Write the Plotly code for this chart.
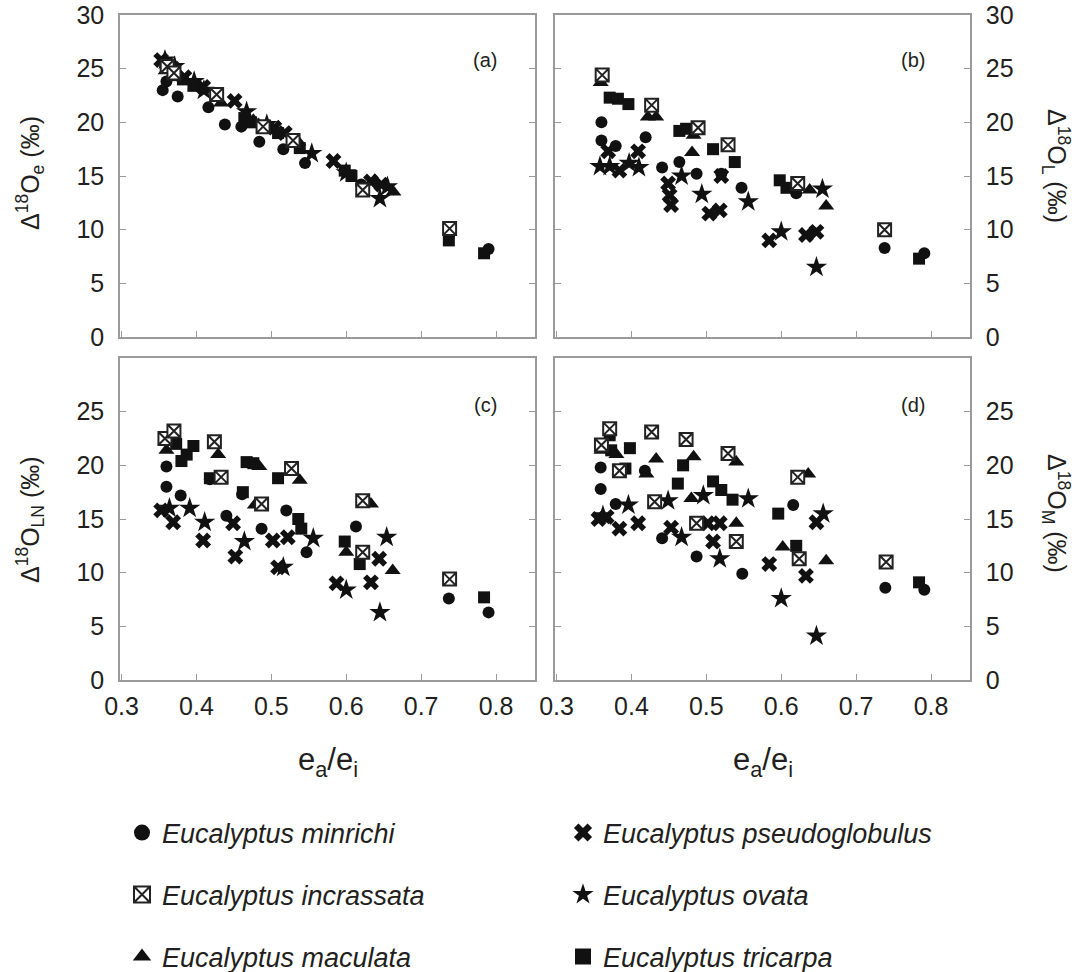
import plotly.graph_objects as go

# ---------------- data ----------------
species = ["Eucalyptus minrichi", "Eucalyptus incrassata", "Eucalyptus maculata",
           "Eucalyptus pseudoglobulus", "Eucalyptus ovata", "Eucalyptus tricarpa"]

# panel (a)  Δ18Oe
minrichi_a_x = [0.355, 0.36, 0.375, 0.416, 0.438, 0.46, 0.484, 0.516, 0.545, 0.62, 0.737, 0.79]
minrichi_a_y = [23.0, 23.8, 22.4, 21.4, 19.8, 19.6, 18.2, 17.5, 16.2, 14.2, 9.4, 8.2]
incrassata_a_x = [0.361, 0.37, 0.427, 0.489, 0.529, 0.622, 0.738]
incrassata_a_y = [25.2, 24.6, 22.6, 19.6, 18.3, 13.7, 10.1]
maculata_a_x = [0.359, 0.38, 0.433, 0.476, 0.483, 0.536, 0.638, 0.663]
maculata_a_y = [24.8, 24.2, 21.8, 20.2, 19.8, 18.2, 14.6, 13.5]
pseudo_a_x = [0.353, 0.369, 0.384, 0.409, 0.451, 0.504, 0.518, 0.583, 0.633, 0.647]
pseudo_a_y = [25.8, 25.0, 24.2, 23.3, 22.0, 19.5, 19.0, 16.4, 14.5, 14.2]
ovata_a_x = [0.358, 0.371, 0.397, 0.41, 0.467, 0.494, 0.554, 0.60, 0.645, 0.655]
ovata_a_y = [25.8, 25.2, 23.8, 23.0, 21.0, 19.8, 17.1, 15.3, 12.9, 14.0]
tricarpa_a_x = [0.371, 0.382, 0.396, 0.464, 0.473, 0.509, 0.538, 0.598, 0.607, 0.737, 0.784]
tricarpa_a_y = [24.4, 24.0, 23.4, 20.4, 20.0, 19.0, 17.6, 15.5, 15.0, 9.0, 7.8]

# panel (b)  Δ18OL
minrichi_b_x = [0.36, 0.36, 0.379, 0.419, 0.441, 0.464, 0.487, 0.52, 0.547, 0.62, 0.738, 0.791]
minrichi_b_y = [20.0, 18.3, 17.8, 18.6, 15.8, 16.3, 15.2, 15.2, 13.9, 13.4, 8.3, 7.8]
incrassata_b_x = [0.361, 0.427, 0.489, 0.529, 0.622, 0.738]
incrassata_b_y = [24.4, 21.6, 19.5, 17.9, 14.3, 10.0]
maculata_b_x = [0.359, 0.422, 0.433, 0.483, 0.481, 0.638, 0.66]
maculata_b_y = [23.7, 20.5, 20.5, 18.8, 17.2, 13.7, 12.2]
pseudo_b_x = [0.369, 0.384, 0.409, 0.449, 0.451, 0.453, 0.504, 0.518, 0.52, 0.584, 0.633, 0.647]
pseudo_b_y = [17.3, 15.5, 17.3, 14.3, 13.2, 12.3, 11.5, 11.8, 15.0, 9.0, 9.5, 9.8]
ovata_b_x = [0.358, 0.371, 0.397, 0.41, 0.467, 0.494, 0.556, 0.60, 0.655, 0.647]
ovata_b_y = [15.9, 15.9, 16.2, 15.8, 15.0, 13.3, 12.6, 9.8, 13.8, 6.5]
tricarpa_b_x = [0.371, 0.382, 0.396, 0.464, 0.473, 0.509, 0.538, 0.598, 0.607, 0.784]
tricarpa_b_y = [22.3, 22.2, 21.7, 19.2, 19.4, 17.5, 16.3, 14.6, 13.9, 7.3]

# panel (c)  Δ18OLN
minrichi_c_x = [0.36, 0.36, 0.379, 0.418, 0.44, 0.461, 0.487, 0.52, 0.547, 0.613, 0.737, 0.79]
minrichi_c_y = [19.9, 18.0, 17.2, 18.7, 15.3, 17.3, 14.1, 15.8, 11.9, 14.3, 7.6, 6.3]
incrassata_c_x = [0.358, 0.37, 0.424, 0.433, 0.527, 0.487, 0.622, 0.622, 0.738]
incrassata_c_y = [22.5, 23.2, 22.2, 18.9, 19.7, 16.4, 16.7, 11.9, 9.4]
maculata_c_x = [0.36, 0.429, 0.484, 0.538, 0.478, 0.633, 0.60, 0.662]
maculata_c_y = [21.4, 21.0, 19.9, 18.6, 16.3, 16.4, 11.9, 10.2]
pseudo_c_x = [0.353, 0.369, 0.409, 0.449, 0.452, 0.502, 0.522, 0.509, 0.587, 0.644, 0.633]
pseudo_c_y = [15.8, 14.7, 13.0, 14.6, 11.5, 13.0, 13.3, 10.5, 9.0, 11.3, 9.1]
ovata_c_x = [0.364, 0.391, 0.411, 0.464, 0.516, 0.556, 0.60, 0.654, 0.645]
ovata_c_y = [16.0, 16.0, 14.7, 12.9, 10.5, 13.2, 8.4, 13.3, 6.3]
tricarpa_c_x = [0.373, 0.396, 0.387, 0.38, 0.467, 0.476, 0.418, 0.509, 0.462, 0.536, 0.54, 0.598, 0.618, 0.784]
tricarpa_c_y = [22.0, 21.8, 21.0, 20.4, 20.3, 20.2, 18.8, 18.8, 17.5, 15.0, 14.1, 12.9, 10.8, 7.7]

# panel (d)  Δ18OM
minrichi_d_x = [0.359, 0.359, 0.379, 0.418, 0.441, 0.487, 0.548, 0.616, 0.739, 0.791]
minrichi_d_y = [19.8, 17.8, 16.4, 19.5, 13.2, 11.5, 9.9, 16.3, 8.6, 8.4]
incrassata_d_x = [0.36, 0.371, 0.384, 0.427, 0.431, 0.473, 0.487, 0.529, 0.54, 0.622, 0.624, 0.74]
incrassata_d_y = [21.9, 23.4, 19.5, 23.1, 16.6, 22.4, 14.6, 21.1, 12.9, 18.9, 11.3, 11.0]
maculata_d_x = [0.36, 0.38, 0.42, 0.433, 0.483, 0.48, 0.54, 0.54, 0.602, 0.636, 0.66]
maculata_d_y = [21.4, 21.0, 19.2, 20.6, 20.8, 16.9, 20.3, 14.6, 12.4, 19.2, 11.1]
pseudo_d_x = [0.356, 0.367, 0.384, 0.409, 0.453, 0.502, 0.518, 0.509, 0.584, 0.633, 0.647]
pseudo_d_y = [15.0, 15.2, 14.1, 14.6, 14.2, 14.6, 14.6, 12.9, 10.8, 9.7, 14.7]
ovata_d_x = [0.362, 0.396, 0.449, 0.467, 0.496, 0.556, 0.518, 0.60, 0.647, 0.656]
ovata_d_y = [15.3, 16.3, 16.7, 13.3, 17.2, 16.9, 11.3, 7.6, 4.1, 15.5]
tricarpa_d_x = [0.371, 0.373, 0.398, 0.392, 0.469, 0.462, 0.509, 0.52, 0.535, 0.596, 0.62, 0.784]
tricarpa_d_y = [22.8, 21.4, 21.6, 19.7, 20.0, 18.3, 18.5, 17.7, 16.8, 15.5, 12.5, 9.1]

x_ticks = [0.3, 0.4, 0.5, 0.6, 0.7, 0.8]
x_tick_text = ["0.3", "0.4", "0.5", "0.6", "0.7", "0.8"]
y_ticks_top = [0, 5, 10, 15, 20, 25, 30]
y_ticks_bottom = [0, 5, 10, 15, 20, 25]

# ---------------- styling ----------------
W, H = 1078, 972
FONT = "Liberation Sans, Arial, sans-serif"
TXT = "#231f20"
AX = "#9a9a9a"

def px_x(p):
    return p / W

def px_y(p):
    return 1 - p / H

styles = {
    "Eucalyptus minrichi": dict(symbol="circle", size=12, color="#111", line=dict(width=0)),
    "Eucalyptus incrassata": dict(symbol="square-x", size=13, color="white", line=dict(width=2, color="#222")),
    "Eucalyptus maculata": dict(symbol="triangle-up", size=14, color="#111", line=dict(width=0)),
    "Eucalyptus pseudoglobulus": dict(symbol="x", size=14, color="#111", line=dict(width=0)),
    "Eucalyptus ovata": dict(symbol="star", size=16, color="#111", line=dict(width=0)),
    "Eucalyptus tricarpa": dict(symbol="square", size=12, color="#111", line=dict(width=0)),
}

panels = {
    "a": ("x", "y", {
        "Eucalyptus minrichi": (minrichi_a_x, minrichi_a_y),
        "Eucalyptus incrassata": (incrassata_a_x, incrassata_a_y),
        "Eucalyptus maculata": (maculata_a_x, maculata_a_y),
        "Eucalyptus pseudoglobulus": (pseudo_a_x, pseudo_a_y),
        "Eucalyptus ovata": (ovata_a_x, ovata_a_y),
        "Eucalyptus tricarpa": (tricarpa_a_x, tricarpa_a_y),
    }),
    "b": ("x2", "y2", {
        "Eucalyptus minrichi": (minrichi_b_x, minrichi_b_y),
        "Eucalyptus incrassata": (incrassata_b_x, incrassata_b_y),
        "Eucalyptus maculata": (maculata_b_x, maculata_b_y),
        "Eucalyptus pseudoglobulus": (pseudo_b_x, pseudo_b_y),
        "Eucalyptus ovata": (ovata_b_x, ovata_b_y),
        "Eucalyptus tricarpa": (tricarpa_b_x, tricarpa_b_y),
    }),
    "c": ("x3", "y3", {
        "Eucalyptus minrichi": (minrichi_c_x, minrichi_c_y),
        "Eucalyptus incrassata": (incrassata_c_x, incrassata_c_y),
        "Eucalyptus maculata": (maculata_c_x, maculata_c_y),
        "Eucalyptus pseudoglobulus": (pseudo_c_x, pseudo_c_y),
        "Eucalyptus ovata": (ovata_c_x, ovata_c_y),
        "Eucalyptus tricarpa": (tricarpa_c_x, tricarpa_c_y),
    }),
    "d": ("x4", "y4", {
        "Eucalyptus minrichi": (minrichi_d_x, minrichi_d_y),
        "Eucalyptus incrassata": (incrassata_d_x, incrassata_d_y),
        "Eucalyptus maculata": (maculata_d_x, maculata_d_y),
        "Eucalyptus pseudoglobulus": (pseudo_d_x, pseudo_d_y),
        "Eucalyptus ovata": (ovata_d_x, ovata_d_y),
        "Eucalyptus tricarpa": (tricarpa_d_x, tricarpa_d_y),
    }),
}

legend_ids = ["legend", "legend2", "legend3", "legend4", "legend5", "legend6"]

fig = go.Figure()
draw_order = ["Eucalyptus pseudoglobulus", "Eucalyptus ovata", "Eucalyptus minrichi",
              "Eucalyptus tricarpa", "Eucalyptus maculata", "Eucalyptus incrassata"]
for key, (xa, ya, data) in panels.items():
    for sp in draw_order:
        xs, ys = data[sp]
        st = styles[sp]
        fig.add_trace(go.Scatter(
            x=xs, y=ys, mode="markers", name=sp, xaxis=xa, yaxis=ya,
            legendgroup=sp, showlegend=False,
            marker=dict(symbol=st["symbol"], size=st["size"], color=st["color"], line=st["line"]),
            hoverinfo="x+y+name",
        ))

# legend-only entries (larger symbols, as in the reference key)
for sp in species:
    st = styles[sp]
    lw = st["line"].get("width", 0)
    fig.add_trace(go.Scatter(
        x=[None], y=[None], mode="markers", name=sp, xaxis="x", yaxis="y",
        legendgroup=sp, showlegend=True, legend=legend_ids[species.index(sp)],
        marker=dict(symbol=st["symbol"], size=16, color=st["color"],
                    line=dict(width=lw, color=st["line"].get("color", "#111"))),
    ))

# ---------------- layout ----------------
L1, R1 = 120, 535
L2, R2 = 555, 970
T1, B1 = 15, 337
T2, B2 = 358, 680
XR = [0.298, 0.852]
YR = [0, 30]

def xaxis(l, r, labels):
    return dict(domain=[px_x(l), px_x(r)], range=XR, tickvals=x_ticks, ticktext=x_tick_text,
                showticklabels=labels, ticks="inside", ticklen=6, tickwidth=1.2, tickcolor=AX,
                showline=True, linecolor=AX, linewidth=1.5, mirror=True,
                showgrid=False, zeroline=False, ticklabelstandoff=3,
                tickfont=dict(family=FONT, size=25, color=TXT))

def yaxis(t, b, side, tv, anchor):
    return dict(domain=[px_y(b), px_y(t)], range=YR, tickvals=tv, side=side, anchor=anchor,
                ticks="inside", ticklen=6, tickwidth=1.2, tickcolor=AX,
                showline=True, linecolor=AX, linewidth=1.5, mirror="ticks",
                showgrid=False, zeroline=False, ticklabelstandoff=9,
                tickfont=dict(family=FONT, size=25, color=TXT))

fig.update_layout(
    width=W, height=H,
    margin=dict(l=0, r=0, t=0, b=0, autoexpand=False),
    paper_bgcolor="white", plot_bgcolor="white",
    xaxis=dict(xaxis(L1, R1, False), anchor="y"),
    xaxis2=dict(xaxis(L2, R2, False), anchor="y2"),
    xaxis3=dict(xaxis(L1, R1, True), anchor="y3"),
    xaxis4=dict(xaxis(L2, R2, True), anchor="y4"),
    yaxis=yaxis(T1, B1, "left", y_ticks_top, "x"),
    yaxis2=yaxis(T1, B1, "right", y_ticks_top, "x2"),
    yaxis3=yaxis(T2, B2, "left", y_ticks_bottom, "x3"),
    yaxis4=yaxis(T2, B2, "right", y_ticks_bottom, "x4"),
    showlegend=True,
)

# legends: 2 columns x 3 rows
leg_pos = [(142, 833), (142, 895), (142, 957), (583, 833), (583, 895), (583, 957)]
for lid, (lx, ly) in zip(legend_ids, leg_pos):
    fig.update_layout({lid: dict(
        x=px_x(lx - 20), y=px_y(ly), xanchor="left", yanchor="middle",
        bgcolor="rgba(0,0,0,0)", borderwidth=0, itemsizing="trace",
        font=dict(family=FONT, size=27, color=TXT, style="italic"),
    )})

# annotations: axis titles and panel letters
ann = []
ann.append(dict(text="Δ<sup>18</sup>O<sub>e</sub> (‰)", x=px_x(30), y=px_y(173), textangle=-90))
ann.append(dict(text="Δ<sup>18</sup>O<sub>LN</sub> (‰)", x=px_x(30), y=px_y(520), textangle=-90))
ann.append(dict(text="Δ<sup>18</sup>O<sub>L</sub> (‰)", x=px_x(1056), y=px_y(166), textangle=90))
ann.append(dict(text="Δ<sup>18</sup>O<sub>M</sub> (‰)", x=px_x(1056), y=px_y(513), textangle=90))
ann.append(dict(text="e<sub>a</sub>/e<sub>i</sub>", x=px_x((L1 + R1) / 2), y=px_y(762), font_size=31))
ann.append(dict(text="e<sub>a</sub>/e<sub>i</sub>", x=px_x((L2 + R2) / 2), y=px_y(762), font_size=31))
for lab, lx, ly in [("(a)", 485, 60), ("(b)", 913, 60), ("(c)", 485, 405), ("(d)", 913, 405)]:
    ann.append(dict(text=lab, x=px_x(lx), y=px_y(ly), font_size=20))
for a in ann:
    fs = a.pop("font_size", 25)
    a.update(xref="paper", yref="paper", showarrow=False, xanchor="center", yanchor="middle",
             font=dict(family=FONT, size=fs, color=TXT))
fig.update_layout(annotations=ann)

fig.write_html("out.html")
